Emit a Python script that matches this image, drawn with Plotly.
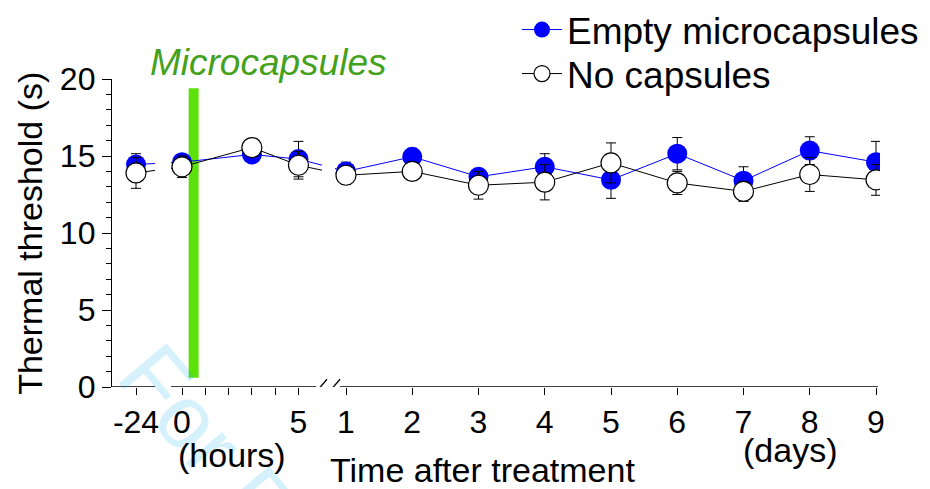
import plotly.graph_objects as go

# ---------------- data ----------------
segments = ["pre", "hours", "hours", "hours", "days", "days", "days", "days", "days", "days", "days", "days", "days"]
times = [-24, 0, 3, 5, 1, 2, 3, 4, 5, 6, 7, 8, 9]

empty_mean = [14.45, 14.6, 15.1, 14.8, 14.0, 14.95, 13.65, 14.3, 13.45, 15.15, 13.4, 15.35, 14.6]
empty_sem = [0.7, 0.45, 0.4, 1.15, 0.6, 0.55, 0.4, 0.85, 1.2, 1.05, 0.9, 0.9, 1.35]
nocap_mean = [13.9, 14.3, 15.55, 14.4, 13.75, 14.0, 13.1, 13.3, 14.55, 13.25, 12.7, 13.8, 13.45]
nocap_sem = [1.0, 0.7, 0.5, 0.9, 0.6, 0.4, 0.9, 1.15, 1.3, 0.75, 0.65, 1.1, 1.0]

tick_segments = ["pre", "hours", "hours", "hours", "hours", "hours", "hours",
                 "days", "days", "days", "days", "days", "days", "days", "days", "days"]
tick_times = [-24, 0, 1, 2, 3, 4, 5, 1, 2, 3, 4, 5, 6, 7, 8, 9]
tick_labels = ["-24", "0", "", "", "", "", "5", "1", "2", "3", "4", "5", "6", "7", "8", "9"]

series_names = ["Empty microcapsules", "No capsules"]

# ---------------- broken-axis scale ----------------
# each segment: (position of reference time, reference time, units per time step)
SEG = {"pre": (24.0, -24.0, 23.3), "hours": (70.0, 0.0, 23.3), "days": (234.0, 1.0, 66.25)}


def xpos(seg, t):
    p0, t0, s = SEG[seg]
    return p0 + (t - t0) * s


x_data = [xpos(s, t) for s, t in zip(segments, times)]
x_ticks = [xpos(s, t) for s, t in zip(tick_segments, tick_times)]

FONT = "Arial, Liberation Sans, sans-serif"

fig = go.Figure()
fig.add_trace(go.Scatter(
    x=x_data, y=empty_mean, mode="lines+markers", name=series_names[0], legend="legend",
    line=dict(color="#0000ff", width=1),
    marker=dict(color="#0000ff", size=20, line=dict(width=0)),
    error_y=dict(type="data", array=empty_sem, color="black", thickness=1, width=5),
))
fig.add_trace(go.Scatter(
    x=x_data, y=nocap_mean, mode="lines+markers", name=series_names[1], legend="legend2",
    line=dict(color="black", width=1),
    marker=dict(color="white", size=20, line=dict(color="black", width=1.2)),
    error_y=dict(type="data", array=nocap_sem, color="black", thickness=1, width=5),
))

shapes = []
# treatment bar (at 0.5 h)
bar_c = xpos("hours", 0.5)
shapes.append(dict(type="rect", xref="x", yref="y", x0=bar_c - 5, x1=bar_c + 5, y0=0.6, y1=19.4,
                   fillcolor="#5ce10a", line=dict(width=0), layer="below"))
# hide connecting lines in axis gaps
for g0, g1 in [(43, 59), (210, 223)]:
    shapes.append(dict(type="rect", xref="x", yref="y", x0=g0, x1=g1, y0=11.5, y1=17.5,
                       fillcolor="white", line=dict(width=0), layer="above"))
# x-axis line segments
for a0, a1 in [(0, 43), (59, 204), (228, 766)]:
    shapes.append(dict(type="line", xref="x", yref="y", x0=a0, x1=a1, y0=0, y1=0,
                       line=dict(color="black", width=1.3)))
# break marks
for s0 in [203, 216]:
    shapes.append(dict(type="line", xref="x", yref="y", x0=s0, x1=s0 + 12, y0=-0.4, y1=0.5,
                       line=dict(color="black", width=1.3)))


def ann(text, x, y, size, color="black", angle=0):
    return dict(text=text, xref="paper", yref="paper", x=x, y=y, xanchor="center", yanchor="middle",
                showarrow=False, textangle=angle, font=dict(family=FONT, size=size, color=color))


annotations = [
    ann("For Peer Review", 0.315, -0.74, 90, "rgba(0,170,240,0.17)", 50),
    ann("<i>Microcapsules</i>", 0.203, 1.052, 37, "#44a11c"),
    ann("(hours)", 0.156, -0.221, 34),
    ann("(days)", 0.883, -0.205, 34),
    ann("Time after treatment", 0.483, -0.27, 34),
    ann("Thermal threshold (s)", -0.107, 0.5, 34, angle=-90),
]

leg_common = dict(xref="container", yref="container", x=517 / 930, xanchor="left", yanchor="middle",
                  font=dict(family=FONT, size=37, color="black"), bgcolor="rgba(0,0,0,0)",
                  itemwidth=40)

fig.update_layout(
    width=930, height=489,
    margin=dict(l=112, r=50, t=79, b=102, autoexpand=False),
    paper_bgcolor="white", plot_bgcolor="white",
    font=dict(family=FONT, color="black"),
    shapes=shapes, annotations=annotations,
    showlegend=True,
    legend=dict(y=1 - 30 / 489, **leg_common),
    legend2=dict(y=1 - 74 / 489, **leg_common),
    xaxis=dict(range=[0, 768], showgrid=False, zeroline=False, showline=False,
               tickmode="array", tickvals=x_ticks, ticktext=tick_labels, tickangle=0,
               ticks="outside", ticklen=7, tickwidth=1.3, tickcolor="black",
               tickfont=dict(family=FONT, size=32, color="black")),
    yaxis=dict(range=[0, 20], showgrid=False, zeroline=False, showline=True, linecolor="black",
               linewidth=1.3, tickmode="array", tickvals=[0, 5, 10, 15, 20],
               ticks="outside", ticklen=9, tickwidth=1.3, tickcolor="black",
               tickfont=dict(family=FONT, size=32, color="black"),
               minor=dict(dtick=1, ticks="outside", ticklen=5, tickwidth=1.3, tickcolor="black")),
)

fig.write_html("out.html")
